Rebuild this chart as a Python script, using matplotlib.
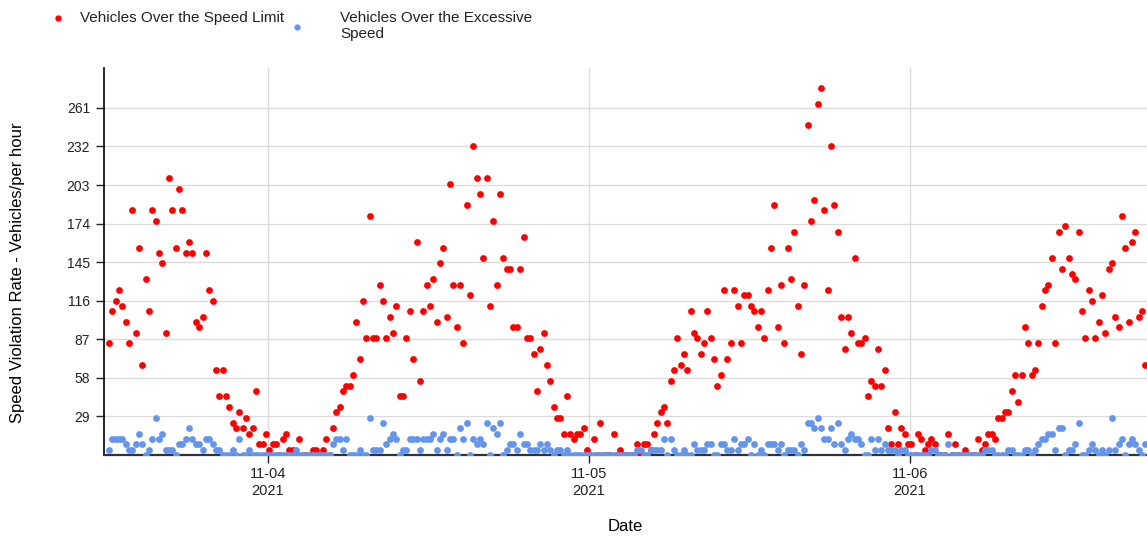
import matplotlib
matplotlib.use("Agg")
import matplotlib.pyplot as plt
import matplotlib.dates as mdates
from matplotlib.lines import Line2D
import pandas as pd

# 15-minute readings, 2021-11-03 12:06 onwards
start_time = "2021-11-03 12:06"

over_limit = [
    84, 108, 116, 124, 112, 100, 84, 184, 92, 156, 68, 132, 108, 184, 176, 152, 144, 92, 208, 184,
    156, 200, 184, 152, 160, 152, 100, 96, 104, 152, 124, 116, 64, 44, 64, 44, 36, 24, 20, 32,
    20, 28, 16, 20, 48, 8, 8, 16, 4, 8, 8, 0, 12, 16, 4, 4, 0, 12, 0, 0,
    0, 4, 4, 0, 4, 12, 0, 20, 32, 36, 48, 52, 52, 60, 100, 72, 116, 88, 180, 88,
    88, 128, 116, 88, 104, 92, 112, 44, 44, 88, 108, 72, 160, 56, 108, 128, 112, 132, 100, 144,
    156, 104, 204, 128, 96, 128, 84, 188, 120, 232, 208, 196, 148, 208, 112, 176, 128, 196, 148, 140,
    140, 96, 96, 140, 164, 88, 88, 76, 48, 80, 92, 68, 56, 36, 28, 28, 16, 44, 16, 12,
    16, 16, 20, 4, 0, 12, 0, 24, 0, 0, 0, 16, 0, 4, 0, 0, 0, 0, 8, 0,
    8, 8, 4, 16, 24, 32, 36, 24, 56, 64, 88, 68, 76, 64, 108, 92, 88, 76, 84, 108,
    88, 72, 52, 60, 124, 72, 84, 124, 112, 84, 120, 120, 112, 108, 96, 108, 88, 124, 156, 188,
    96, 128, 84, 156, 132, 168, 112, 76, 128, 248, 176, 192, 264, 276, 184, 124, 232, 188, 168, 104,
    80, 104, 92, 148, 84, 84, 88, 44, 56, 52, 80, 52, 64, 20, 8, 32, 8, 20, 16, 8,
    8, 0, 16, 12, 4, 8, 12, 8, 0, 0, 0, 16, 0, 8, 0, 0, 4, 0, 0, 0,
    12, 4, 8, 16, 16, 12, 28, 28, 32, 32, 48, 60, 40, 60, 96, 84, 60, 64, 84, 112,
    124, 128, 148, 84, 168, 140, 172, 148, 136, 132, 168, 108, 88, 124, 116, 88, 100, 120, 92, 140,
    144, 104, 96, 180, 156, 100, 160, 168, 104, 108, 68,
]

over_excessive = [
    4, 12, 12, 12, 12, 8, 4, 4, 8, 16, 8, 0, 4, 12, 28, 12, 16, 4, 4, 4,
    0, 8, 8, 12, 20, 12, 8, 8, 4, 12, 12, 8, 4, 4, 0, 0, 0, 4, 0, 12,
    0, 0, 4, 0, 0, 0, 0, 0, 0, 0, 0, 0, 0, 0, 0, 0, 4, 0, 0, 0,
    0, 0, 0, 0, 0, 0, 0, 8, 12, 12, 4, 12, 0, 0, 0, 4, 0, 0, 28, 4,
    4, 4, 24, 8, 12, 16, 12, 0, 4, 4, 12, 12, 12, 4, 12, 12, 12, 16, 4, 12,
    16, 4, 12, 12, 0, 20, 12, 24, 0, 12, 8, 12, 8, 24, 0, 20, 16, 24, 0, 4,
    8, 8, 4, 16, 8, 8, 4, 4, 4, 8, 4, 8, 4, 0, 4, 4, 0, 4, 0, 0,
    0, 0, 0, 0, 0, 0, 0, 0, 0, 0, 0, 0, 0, 0, 0, 0, 0, 0, 4, 4,
    0, 0, 4, 4, 4, 4, 12, 0, 12, 4, 0, 0, 4, 0, 0, 8, 4, 4, 4, 8,
    8, 0, 0, 8, 8, 4, 4, 12, 4, 8, 8, 12, 0, 8, 0, 4, 0, 8, 8, 8,
    4, 8, 0, 4, 4, 4, 0, 8, 4, 24, 24, 20, 28, 20, 12, 12, 20, 8, 24, 8,
    4, 12, 16, 12, 12, 8, 0, 0, 12, 4, 12, 4, 8, 4, 4, 4, 0, 4, 4, 0,
    0, 0, 0, 0, 0, 0, 4, 4, 0, 0, 0, 8, 0, 0, 0, 0, 0, 0, 0, 0,
    0, 0, 4, 4, 4, 0, 0, 0, 0, 4, 4, 0, 0, 0, 4, 4, 0, 4, 8, 12,
    12, 16, 16, 4, 20, 20, 0, 4, 4, 8, 24, 0, 0, 4, 8, 4, 0, 4, 0, 4,
    28, 4, 8, 12, 0, 8, 12, 8, 4, 0, 8,
]

y_ticks = [29, 58, 87, 116, 145, 174, 203, 232, 261]
x_start, x_end = "2021-11-03 11:44", "2021-11-06 17:43"

times = pd.date_range(start_time, periods=len(over_limit), freq="15min")

plt.rcParams["font.family"] = ["Liberation Sans", "DejaVu Sans"]
plt.rcParams["font.size"] = 10

fig = plt.figure(figsize=(11.47, 5.37), dpi=100)
ax = fig.add_axes([104 / 1147, 1 - 455 / 537, 1 - 104 / 1147, (455 - 68) / 537])

ax.scatter(times, over_limit, s=24, color="#ff0000", linewidths=0, zorder=3)
ax.scatter(times[:len(over_excessive)], over_excessive, s=24, color="#6495ed",
           linewidths=0, zorder=4)

ax.set_xlim(pd.Timestamp(x_start), pd.Timestamp(x_end))
ax.set_ylim(0, 291)
ax.set_yticks(y_ticks)
ax.xaxis.set_major_locator(mdates.DayLocator())
ax.xaxis.set_major_formatter(mdates.DateFormatter("%m-%d\n%Y"))

ax.grid(True, color="#dcdcdc", linewidth=1, zorder=0)
ax.set_axisbelow(True)
for side in ("top", "right"):
    ax.spines[side].set_visible(False)
ax.spines["left"].set_linewidth(1.2)
ax.spines["bottom"].set_linewidth(1.6)
ax.spines["bottom"].set_color("#333333")
ax.tick_params(axis="y", length=6, width=1, pad=4, colors="#222222")
ax.tick_params(axis="x", length=6, width=1, pad=3, colors="#222222", labelsize=10.5)

ax.set_xlabel("Date", fontsize=12, labelpad=15)
ax.set_ylabel("Speed Violation Rate - Vehicles/per hour", fontsize=12)
ax.yaxis.set_label_coords(-0.0757, 0.47)

# legend drawn by hand along the top
fig.add_artist(Line2D([58 / 1147], [1 - 18 / 537], marker="o", markersize=3.5,
                      color="#ff0000", linestyle="none", transform=fig.transFigure))
fig.text(80 / 1147, 1 - 18 / 537, "Vehicles Over the Speed Limit", fontsize=11,
         va="center", ha="left", color="#222222")
fig.add_artist(Line2D([297 / 1147], [1 - 27 / 537], marker="o", markersize=3.5,
                      color="#6495ed", linestyle="none", transform=fig.transFigure))
fig.text(340 / 1147, 1 - 26 / 537, "Vehicles Over the Excessive\nSpeed", fontsize=11,
         va="center", ha="left", color="#222222", linespacing=1.2)

fig.savefig("out.png", dpi=100)
